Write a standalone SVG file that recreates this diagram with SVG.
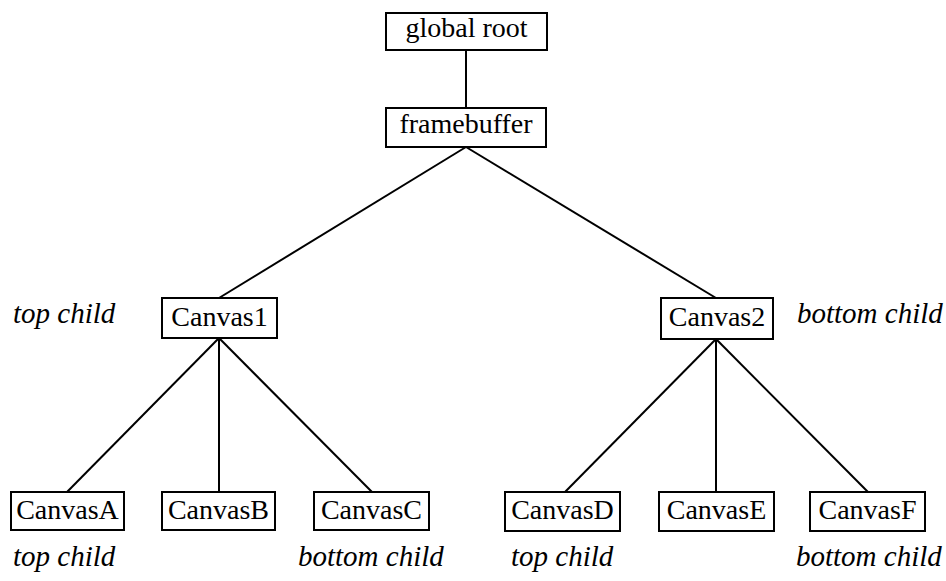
<svg xmlns="http://www.w3.org/2000/svg" width="946" height="581" viewBox="0 0 946 581">
<style>
.box{fill:#fff;stroke:#000;stroke-width:2}
line{stroke:#000;stroke-width:2}
text{font-family:"Liberation Serif","Times New Roman",serif;font-size:28px;fill:#000;text-anchor:middle}
.lbl{font-style:italic;font-size:29px;text-anchor:start}
</style>
<rect width="946" height="581" style="fill:#fff;stroke:none"/>
<g id="connectors">
<line x1="466" y1="50" x2="466" y2="108"/>
<line x1="466" y1="147" x2="219" y2="298"/>
<line x1="466" y1="147" x2="716" y2="298"/>
<line x1="219" y1="338" x2="67" y2="492"/>
<line x1="219" y1="338" x2="219" y2="492"/>
<line x1="219" y1="338" x2="372" y2="492"/>
<line x1="716" y1="339" x2="565" y2="492"/>
<line x1="716" y1="339" x2="716" y2="492"/>
<line x1="716" y1="339" x2="868" y2="492"/>
</g>
<g id="global-root"><rect class="box" x="386" y="13" width="161" height="37"/><text x="466.5" y="37">global root</text></g>
<g id="framebuffer"><rect class="box" x="386" y="108" width="160" height="39"/><text x="466" y="133">framebuffer</text></g>
<g id="canvas1"><rect class="box" x="162" y="298" width="115" height="40"/><text x="219.5" y="326">Canvas1</text></g>
<g id="canvas2"><rect class="box" x="661" y="298" width="112" height="41"/><text x="717" y="326">Canvas2</text></g>
<g id="canvasA"><rect class="box" x="11" y="492" width="113" height="38"/><text x="67.5" y="519">CanvasA</text></g>
<g id="canvasB"><rect class="box" x="162" y="492" width="113" height="38"/><text x="218.5" y="519">CanvasB</text></g>
<g id="canvasC"><rect class="box" x="314" y="492" width="115" height="38"/><text x="371.5" y="519">CanvasC</text></g>
<g id="canvasD"><rect class="box" x="505" y="492" width="115" height="39"/><text x="562.5" y="519">CanvasD</text></g>
<g id="canvasE"><rect class="box" x="659" y="492" width="115" height="39"/><text x="716.5" y="519">CanvasE</text></g>
<g id="canvasF"><rect class="box" x="810" y="492" width="115" height="39"/><text x="867.5" y="519">CanvasF</text></g>
<g id="labels">
<text class="lbl" x="13" y="323">top child</text>
<text class="lbl" x="797" y="323">bottom child</text>
<text class="lbl" x="13" y="566">top child</text>
<text class="lbl" x="298" y="566">bottom child</text>
<text class="lbl" x="511" y="566">top child</text>
<text class="lbl" x="796" y="566">bottom child</text>
</g>
</svg>
